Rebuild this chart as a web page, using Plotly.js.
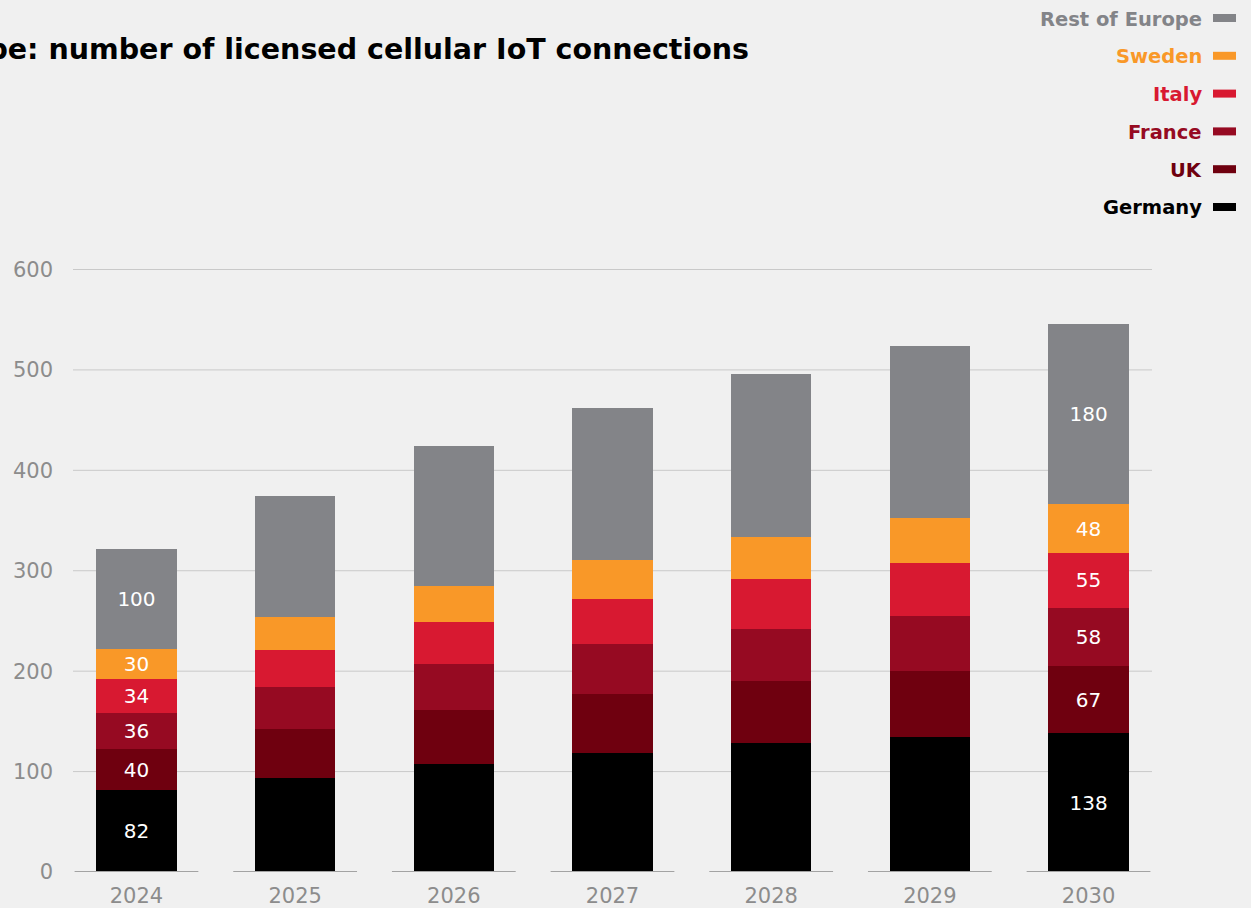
<!DOCTYPE html>
<html><head><meta charset="utf-8">
<script src="https://cdn.plot.ly/plotly-3.0.1.min.js"></script>
<style>html,body{margin:0;padding:0;background:#f0f0f0;}</style>
</head><body><div id="chart" style="width:1251px;height:908px;"></div>
<script>
// ---- data ----
const years = ['2024','2025','2026','2027','2028','2029','2030'];
const germany = [82, 94, 108, 119, 128, 134, 138];
const uk = [40, 48, 53, 58, 62, 66, 67];
const france = [36, 42, 46, 50, 52, 55, 58];
const italy = [34, 37, 42, 45, 50, 53, 55];
const sweden = [30, 33, 36, 39, 42, 45, 48];
const restOfEurope = [100, 120, 139, 151, 162, 171, 180];
const seriesNames = ['Germany', 'UK', 'France', 'Italy', 'Sweden', 'Rest of Europe'];
const labeledYears = ['2024', '2030'];
const totalLabels = ['322', '', '', '', '', '', '545'];
const yTicks = [0, 100, 200, 300, 400, 500, 600];
const titleText = 'Europe: number of licensed cellular IoT connections';

// ---- styles ----
const seriesValues = [germany, uk, france, italy, sweden, restOfEurope];
const colors = ['#000000', '#6f000f', '#960a22', '#d81931', '#f99828', '#838488'];
const FONT = '"DejaVu Sans", Lato, sans-serif';

const traces = seriesNames.map((name, k) => ({
  type: 'bar',
  name: name,
  x: years,
  y: seriesValues[k],
  marker: {color: colors[k], line: {width: 0}},
  text: seriesValues[k].map((v, i) => labeledYears.includes(years[i]) ? String(v) : ''),
  textposition: 'inside',
  insidetextanchor: 'middle',
  textangle: 0,
  constraintext: 'none',
  textfont: {color: '#ffffff', size: 20, family: FONT},
  hoverinfo: 'x+y+name'
}));

const totals = years.map((_, i) => seriesValues.reduce((s, arr) => s + arr[i], 0));

// pixel helpers for layout elements (plot area 73..1152 x, 269..872 y)
const PL = 73, PR = 1152, PT = 269, PB = 872;
const px = x => (x - PL) / (PR - PL);
const py = y => (PB - y) / (PB - PT);

const annotations = [];
const shapes = [];

// title (cut off on the left as in reference)
annotations.push({
  xref: 'paper', yref: 'paper', x: px(751), y: py(49),
  xanchor: 'right', yanchor: 'middle', showarrow: false,
  text: titleText,
  font: {family: FONT, size: 28.5, color: '#000000', weight: 'bold'}
});

// totals above selected bars
years.forEach((yr, i) => {
  if (totalLabels[i]) {
    annotations.push({
      x: yr, y: totals[i], xref: 'x', yref: 'y',
      yanchor: 'bottom', yshift: 15, showarrow: false,
      text: totalLabels[i],
      font: {family: FONT, size: 22, color: '#000000'}
    });
  }
});

// custom legend (text right, swatch at right)
const legendOrder = [5, 4, 3, 2, 1, 0];
legendOrder.forEach((k, j) => {
  const cy = 18 + j * 37.8;
  annotations.push({
    xref: 'paper', yref: 'paper', x: px(1204), y: py(cy + 1),
    xanchor: 'right', yanchor: 'middle', showarrow: false,
    text: seriesNames[k],
    font: {family: FONT, size: 19.5, color: colors[k], weight: 'bold'}
  });
  shapes.push({
    type: 'rect', xref: 'paper', yref: 'paper',
    x0: px(1213), x1: px(1236), y0: py(cy + 4), y1: py(cy - 4),
    fillcolor: colors[k], line: {width: 0}
  });
});

// horizontal gridlines
yTicks.filter(v => v > 0).forEach(v => {
  shapes.push({
    type: 'line', xref: 'paper', yref: 'y', x0: 0, x1: 1, y0: v, y1: v,
    line: {color: '#c9c9c9', width: 1}, layer: 'below'
  });
});

// segmented baseline under each category
years.forEach((yr, i) => {
  shapes.push({
    type: 'line', xref: 'x', yref: 'y', x0: i - 0.39, x1: i + 0.39, y0: 0, y1: 0,
    line: {color: '#a3a3a3', width: 2}, layer: 'above'
  });
});

const layout = {
  width: 1251, height: 908,
  paper_bgcolor: '#f0f0f0', plot_bgcolor: '#f0f0f0',
  margin: {l: PL, r: 1251 - PR, t: PT, b: 908 - PB, pad: 0},
  barmode: 'stack',
  bargap: 0.495,
  showlegend: false,
  xaxis: {
    type: 'category', range: [-0.4, 6.4],
    showgrid: false, zeroline: false, showline: false, ticks: '',
    ticklabelstandoff: 9,
    tickfont: {family: FONT, size: 21, color: '#8c8c8c'},
    fixedrange: true
  },
  yaxis: {
    range: [0, 600.5], tickvals: yTicks, ticktext: yTicks.map(String),
    showgrid: false, zeroline: false, showline: false, ticks: '',
    ticklabelstandoff: 19,
    tickfont: {family: FONT, size: 21, color: '#8c8c8c'},
    fixedrange: true
  },
  annotations: annotations,
  shapes: shapes,
  font: {family: FONT}
};

Plotly.newPlot('chart', traces, layout, {displayModeBar: false, staticPlot: true});
</script>
</body></html>
